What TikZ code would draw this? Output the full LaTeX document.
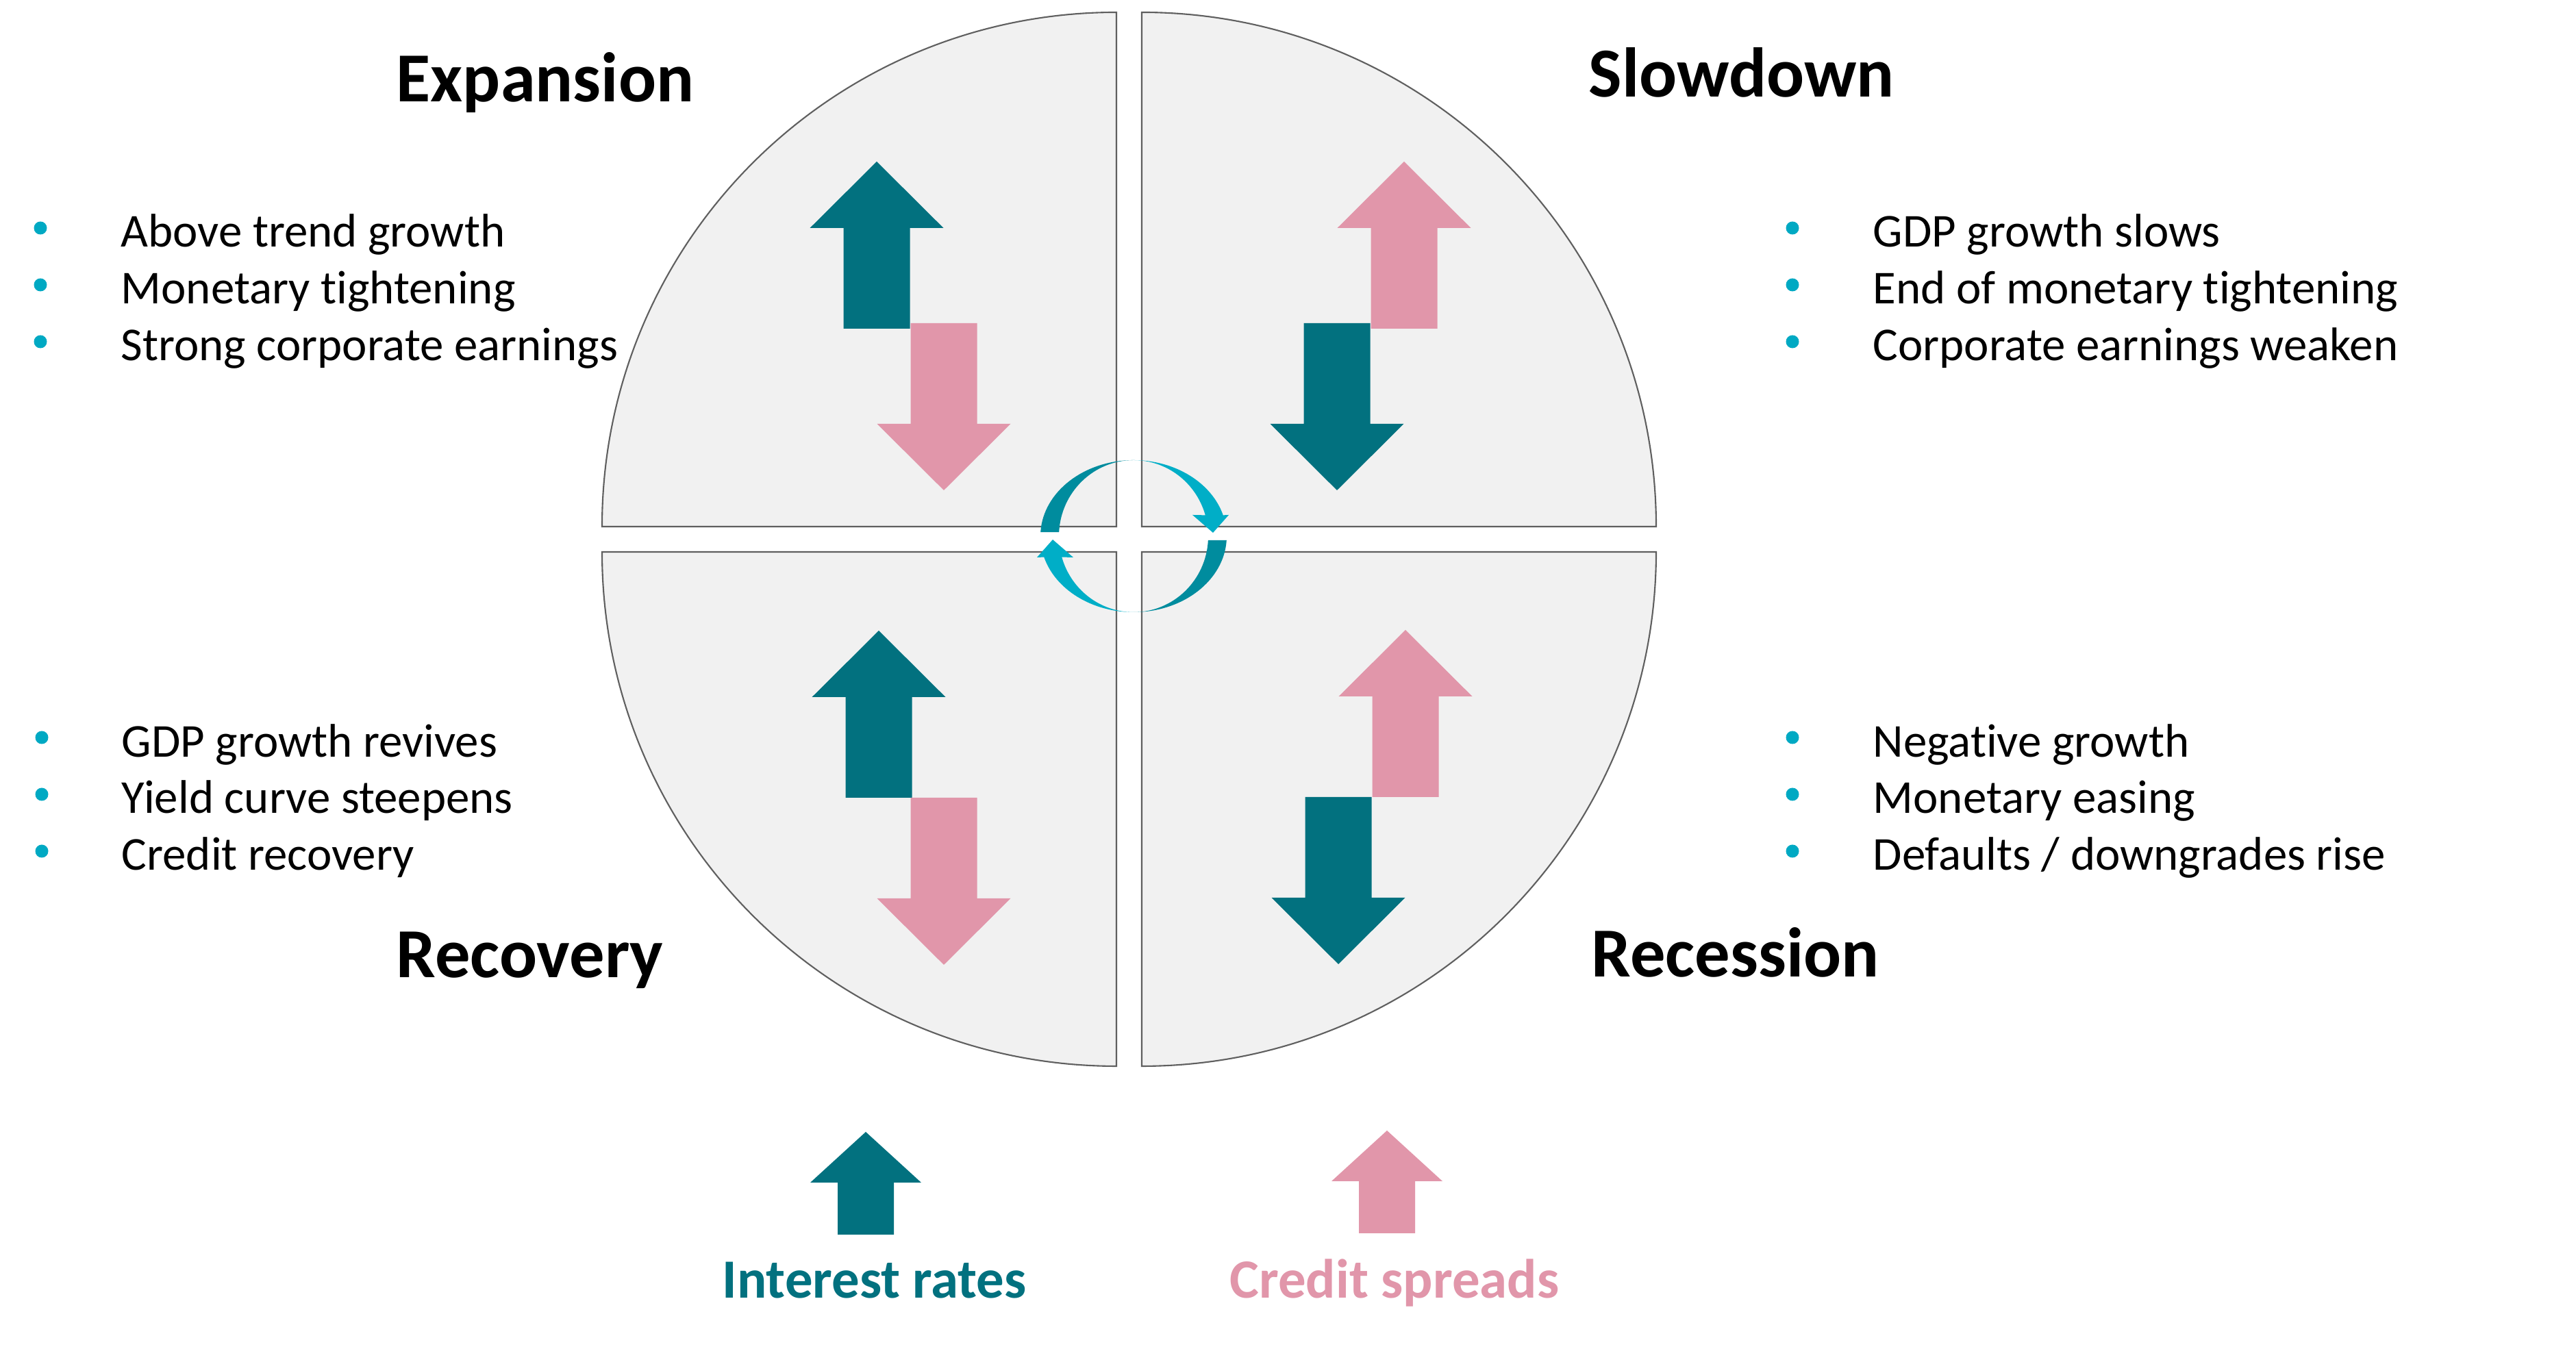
\documentclass[tikz,border=0pt]{standalone}
\usepackage{fontspec}
\setmainfont{Carlito}[Ligatures=NoCommon]
\usetikzlibrary{calc}
\definecolor{rateteal}{HTML}{02717F}
\definecolor{spreadpink}{HTML}{E196AA}
\definecolor{cycdark}{HTML}{008C9E}
\definecolor{cyclight}{HTML}{00AEC7}
\definecolor{dotcyan}{HTML}{00A9C3}
\definecolor{quadfill}{HTML}{F1F1F1}
\definecolor{quadline}{HTML}{5F5F5F}

\begin{document}
\begin{tikzpicture}[line join=miter,
	quad/.style={fill=quadfill, draw=quadline, line width=0.6pt},
	phase/.style={anchor=base west, inner sep=0pt, font=\fontsize{29.2}{34}\selectfont\bfseries},
	item/.style={anchor=base west, inner sep=0pt, font=\fontsize{19.6}{23.5}\selectfont},
	bulletdot/.style={circle, fill=dotcyan, inner sep=0pt, minimum size=0.19cm},
	keytext/.style={anchor=base west, inner sep=0pt, font=\fontsize{23}{27}\selectfont\bfseries},
	pics/bigarrow/.style={code={
		\fill (-0.485,0) -- (-0.485,1.47) -- (-0.975,1.47) -- (0,2.44)
		-- (0.975,1.47) -- (0.485,1.47) -- (0.485,0) -- cycle;}},
	pics/keyarrow/.style={code={
		\fill (-0.41,0) -- (-0.41,0.76) -- (-0.81,0.76) -- (0,1.50)
		-- (0.81,0.76) -- (0.41,0.76) -- (0.41,0) -- cycle;}}]
\fill[white] (0,0) rectangle (37.61,19.70);
\useasboundingbox (0,0) rectangle (37.61,19.70);

%========================
% quadrants of the cycle
%========================
\draw[quad] (16.30,12.01) -- (8.79,12.01) arc[start angle=180, end angle=90, radius=7.51] -- cycle;
\draw[quad] (16.67,12.01) -- (16.67,19.52) arc[start angle=90, end angle=0, radius=7.51] -- cycle;
\draw[quad] (16.30,11.64) -- (8.79,11.64) arc[start angle=180, end angle=270, radius=7.51] -- cycle;
\draw[quad] (16.67,11.64) -- (16.67,4.13) arc[start angle=270, end angle=360, radius=7.51] -- cycle;

% rates / spreads in each phase
\pic[rateteal] at (12.80,14.90) {bigarrow};
\pic[spreadpink, rotate=180] at (13.78,14.98) {bigarrow};
\pic[spreadpink] at (20.50,14.90) {bigarrow};
\pic[rateteal, rotate=180] at (19.52,14.98) {bigarrow};
\pic[rateteal] at (12.83,8.05) {bigarrow};
\pic[spreadpink, rotate=180] at (13.78,8.05) {bigarrow};
\pic[spreadpink] at (20.52,8.06) {bigarrow};
\pic[rateteal, rotate=180] at (19.54,8.06) {bigarrow};

%========================
% circular arrows in the middle
%========================
\coordinate (hub) at (16.55,11.87);
% upper arrow (left to right)
\fill[cycdark] ($(hub)+(177:1.36 and 1.11)$) arc[start angle=177, end angle=90, x radius=1.36, y radius=1.11]
	arc[start angle=90, end angle=177, x radius=1.09, y radius=1.11] -- cycle;
\fill[cyclight] ($(hub)+(0,1.11)$) arc[start angle=90, end angle=16, x radius=1.36, y radius=1.11]
	-- (17.94,12.18) -- (17.71,11.92) -- (17.41,12.18)
	-- ($(hub)+(16:1.09 and 1.11)$) arc[start angle=16, end angle=90, x radius=1.09, y radius=1.11] -- cycle;
% lower arrow (right to left)
\fill[cycdark] ($(hub)+(-3:1.36 and 1.11)$) arc[start angle=-3, end angle=-90, x radius=1.36, y radius=1.11]
	arc[start angle=-90, end angle=-3, x radius=1.09, y radius=1.11] -- cycle;
\fill[cyclight] ($(hub)+(0,-1.11)$) arc[start angle=-90, end angle=-164, x radius=1.36, y radius=1.11]
	-- (15.14,11.56) -- (15.37,11.82) -- (15.67,11.56)
	-- ($(hub)+(-164:1.09 and 1.11)$) arc[start angle=-164, end angle=-90, x radius=1.09, y radius=1.11] -- cycle;

%========================
% phase titles
%========================
\node[phase] (expansion) at (5.78,18.21) {Expansion};
\node[phase] (slowdown) at (23.19,18.28) {Slowdown};
\node[phase] (recovery) at (5.78,5.42) {Recovery};
\node[phase] (recession) at (23.23,5.43) {Recession};

% expansion
\node[bulletdot] (ex1d) at (0.59,16.37) {};
\node[bulletdot] (ex2d) at (0.59,15.54) {};
\node[bulletdot] (ex3d) at (0.59,14.71) {};
\node[item] (ex1) at (1.76,16.09) {Above trend growth};
\node[item] (ex2) at (1.76,15.26) {Monetary tightening};
\node[item] (ex3) at (1.76,14.43) {Strong corporate earnings};

% slowdown
\node[bulletdot] (sl1d) at (26.17,16.37) {};
\node[bulletdot] (sl2d) at (26.17,15.54) {};
\node[bulletdot] (sl3d) at (26.17,14.71) {};
\node[item] (sl1) at (27.34,16.09) {GDP growth slows};
\node[item] (sl2) at (27.34,15.26) {End of monetary tightening};
\node[item] (sl3) at (27.34,14.43) {Corporate earnings weaken};

% recovery
\node[bulletdot] (rc1d) at (0.61,8.93) {};
\node[bulletdot] (rc2d) at (0.61,8.10) {};
\node[bulletdot] (rc3d) at (0.61,7.27) {};
\node[item] (rc1) at (1.77,8.64) {GDP growth revives};
\node[item] (rc2) at (1.77,7.82) {Yield curve steepens};
\node[item] (rc3) at (1.77,6.99) {Credit recovery};

% recession
\node[bulletdot] (rs1d) at (26.17,8.93) {};
\node[bulletdot] (rs2d) at (26.17,8.10) {};
\node[bulletdot] (rs3d) at (26.17,7.27) {};
\node[item] (rs1) at (27.34,8.64) {Negative growth};
\node[item] (rs2) at (27.34,7.82) {Monetary easing};
\node[item] (rs3) at (27.34,6.99) {Defaults / downgrades rise};

%========================
% key
%========================
\pic[rateteal] at (12.64,1.67) {keyarrow};
\pic[spreadpink] at (20.25,1.69) {keyarrow};
\node[keytext, text=rateteal] (rates) at (10.54,0.74) {Interest rates};
\node[keytext, text=spreadpink] (spreads) at (17.95,0.74) {Credit spreads};
\end{tikzpicture}
\end{document}
